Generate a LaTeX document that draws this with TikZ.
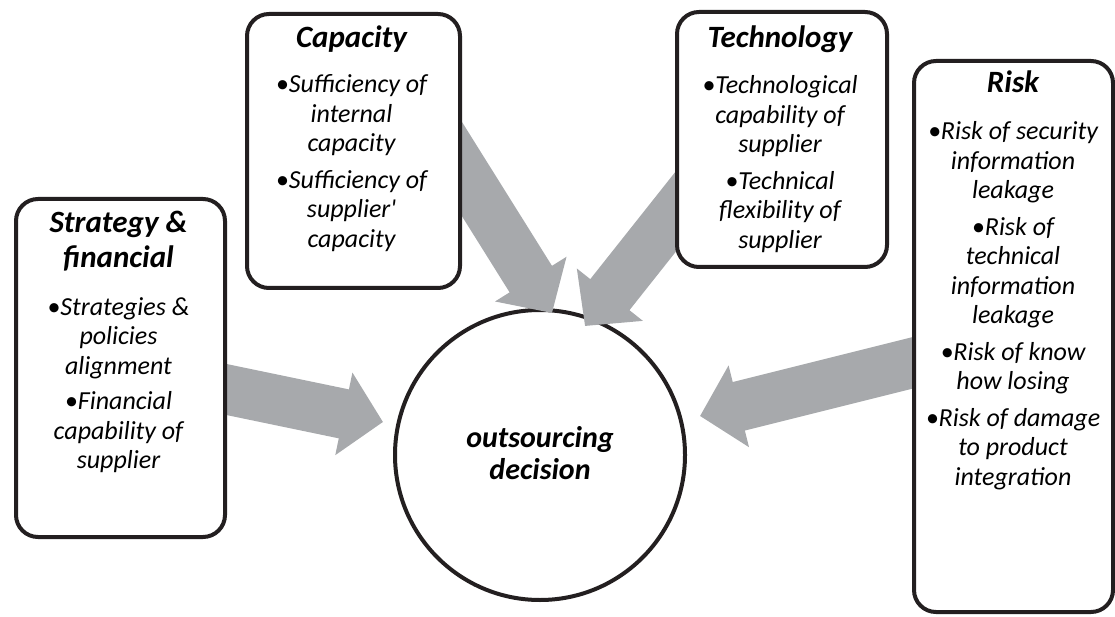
\documentclass[tikz,border=0pt]{standalone}
\usepackage{fontspec}
\setmainfont{Carlito}
\usetikzlibrary{arrows.meta}
\definecolor{arrowgray}{HTML}{A7A9AC}
\definecolor{edgeblack}{HTML}{231F20}
\newcommand\bodyfnt{\fontsize{26}{29.5}\selectfont\itshape}
\newcommand\titlefnt{\fontsize{31}{35}\selectfont\bfseries\itshape}
\newcommand\hubfnt{\fontsize{30}{32}\selectfont\bfseries\itshape}
\newcommand\straightquote{{\addfontfeatures{Ligatures=TeXOff}'}}
\begin{document}
\begin{tikzpicture}[x=1pt,y=-1pt,
  card/.style={draw=edgeblack, line width=4pt, rounded corners=22pt, fill=white,
               inner sep=0pt, anchor=north west},
  txt/.style={inner sep=0pt, anchor=base},
  flow/.style={line width=50pt, draw=arrowgray,
               -{Triangle[width=82pt,length=40pt,fill=arrowgray]}}]
\useasboundingbox (0,0) rectangle (1115,617);

% central circle
\node[circle, draw=edgeblack, line width=4pt, fill=white, minimum size=290pt,
      inner sep=0pt] (hub) at (540,455) {};
\node[txt] (hubtext) at (540,447) {\hubfnt
  \begin{tabular}[t]{@{}c@{}}outsourcing\\decision\end{tabular}};

% arrow end points
\coordinate (sfTail) at (200,384);
\coordinate (sfTip) at (383,422);
\coordinate (capTail) at (430,118);
\coordinate (capTip) at (552,313);
\coordinate (techTail) at (700,181);
\coordinate (techTip) at (585,326);
\coordinate (riskTail) at (940,356);
\coordinate (riskTip) at (700,416);

\draw[flow] (sfTail) -- (sfTip);
\draw[flow] (capTail) -- (capTip);
\draw[flow] (techTail) -- (techTip);
\draw[flow] (riskTail) -- (riskTip);

% boxes
\node[card, minimum width=209pt, minimum height=338pt] (sf) at (14,197) {};
\node[card, minimum width=213pt, minimum height=274pt] (cap) at (245,12) {};
\node[card, minimum width=210pt, minimum height=255pt] (tech) at (675,10) {};
\node[card, minimum width=199pt, minimum height=551pt] (risk) at (912,59) {};

% Strategy & financial
\node[txt] (sfTitle) at (118.5,233) {\titlefnt
  \begin{tabular}[t]{@{}c@{}}Strategy \&\\financial\end{tabular}};
\node[txt] (sfBody) at (118.5,315) {\bodyfnt
  \begin{tabular}[t]{@{}c@{}}•Strategies \&\\policies\\alignment\\[6pt]
  •Financial\\capability of\\supplier\end{tabular}};

% Capacity
\node[txt] (capTitle) at (351.5,48) {\titlefnt Capacity};
\node[txt] (capBody) at (351.5,93) {\bodyfnt
  \begin{tabular}[t]{@{}c@{}}•Sufficiency of\\internal\\capacity\\[7pt]
  •Sufficiency of\\supplier\straightquote\\capacity\end{tabular}};

% Technology
\node[txt] (techTitle) at (780,48) {\titlefnt Technology};
\node[txt] (techBody) at (780,94) {\bodyfnt
  \begin{tabular}[t]{@{}c@{}}•Technological\\capability of\\supplier\\[7pt]
  •Technical\\flexibility of\\supplier\end{tabular}};

% Risk
\node[txt] (riskTitle) at (1013,93) {\titlefnt Risk};
\node[txt] (riskBody) at (1013,140) {\bodyfnt
  \begin{tabular}[t]{@{}c@{}}•Risk of security\\information\\leakage\\[7pt]
  •Risk of\\technical\\information\\leakage\\[7pt]
  •Risk of know\\how losing\\[7pt]
  •Risk of damage\\to product\\integration\end{tabular}};
\end{tikzpicture}
\end{document}
